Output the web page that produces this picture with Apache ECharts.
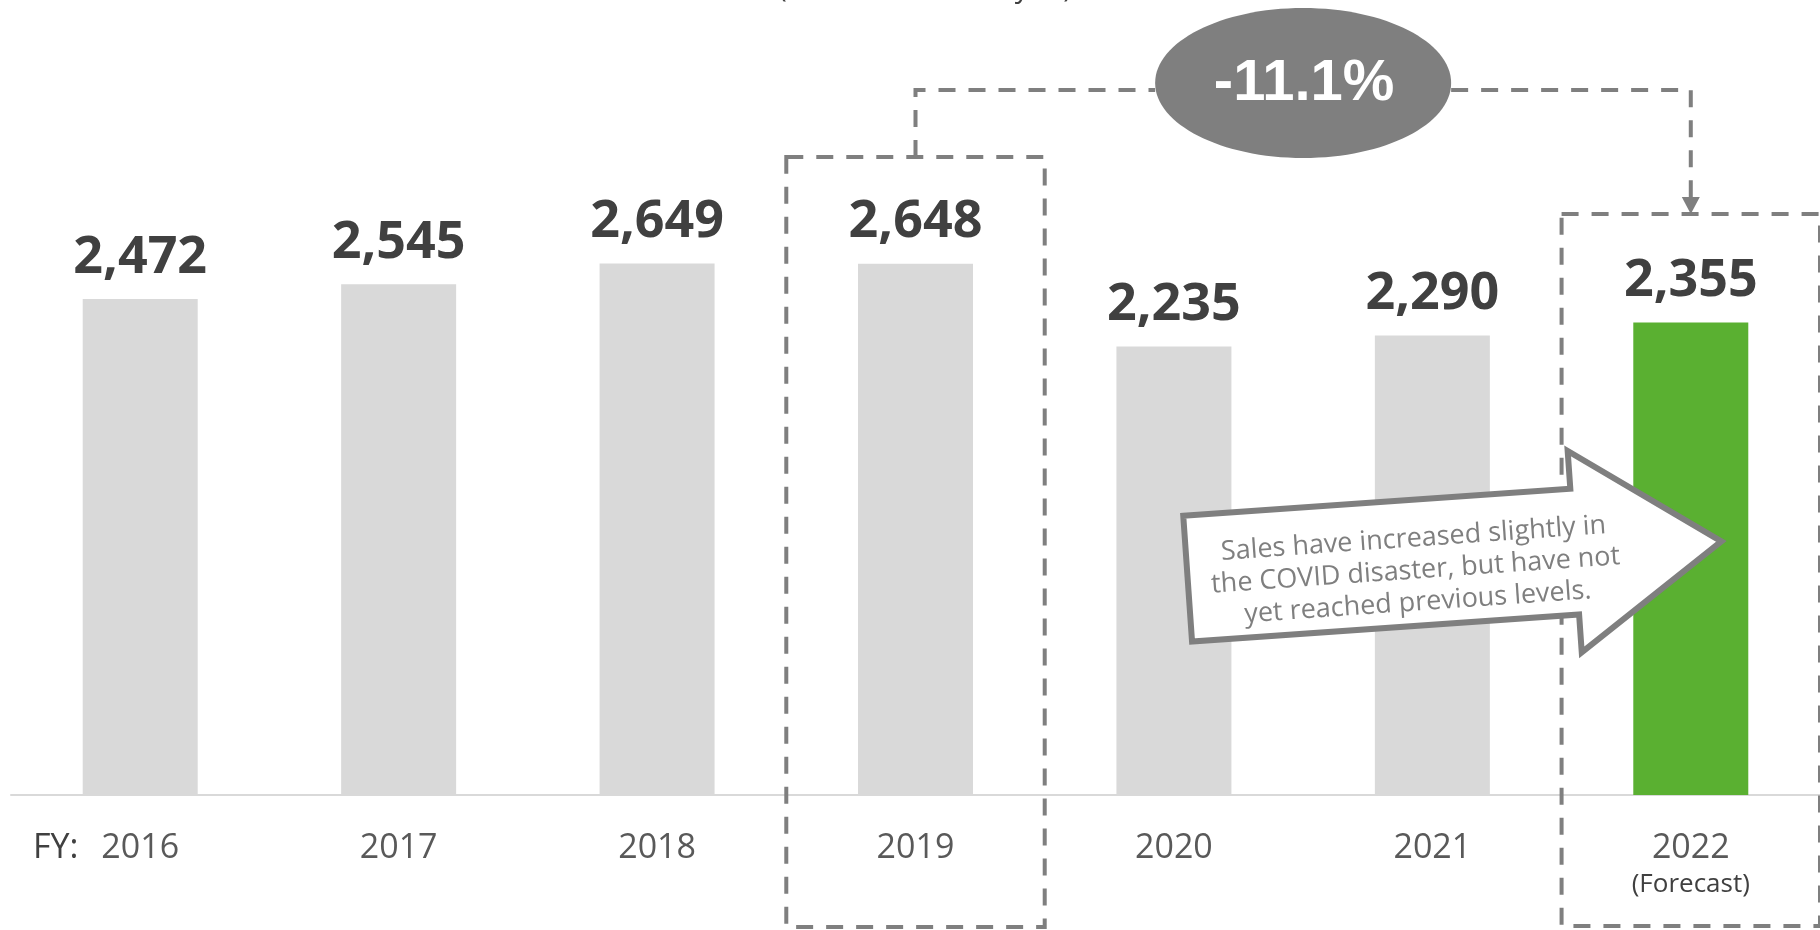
<!DOCTYPE html>
<html>
<head>
<meta charset="utf-8">
<script src="https://cdn.jsdelivr.net/npm/echarts@6/dist/echarts.min.js"></script>
<style>
  html, body { margin: 0; padding: 0; background: #ffffff; }
  #chart { width: 1820px; height: 930px; }
</style>
</head>
<body>
<div id="chart"></div>
<script>
// Net sales by fiscal year (FY2022 is a forecast)
const fiscalYears = ['2016', '2017', '2018', '2019', '2020', '2021', '2022'];
const sales = [2472, 2545, 2649, 2648, 2235, 2290, 2355];
const forecastIndex = 6;
const baseIndex = 3;
const changeLabel = '-11.1%';
const unitNote = '(Unit: 100 million yen)';
const calloutLines = [
  'Sales have increased slightly in',
  'the COVID disaster, but have not',
  'yet reached previous levels.'
];

const GREY_BAR = '#d9d9d9';
const GREEN_BAR = '#5ab031';
const DASH_GREY = '#7f7f7f';
const SANS = '"Open Sans", "Noto Sans", sans-serif';

const chart = echarts.init(document.getElementById('chart'), null, { renderer: 'canvas' });

chart.setOption({
  animation: false,
  backgroundColor: '#ffffff',
  grid: { left: 11, right: -4, top: 193, bottom: 135 },
  xAxis: {
    type: 'category',
    data: fiscalYears,
    axisLine: { lineStyle: { color: GREY_BAR, width: 2 } },
    axisTick: { show: false },
    axisLabel: {
      interval: 0,
      margin: 33,
      fontFamily: SANS,
      fontSize: 34,
      lineHeight: 40,
      color: '#595959',
      formatter: (v, i) => i === forecastIndex ? v + '\n{f|(Forecast)}' : v,
      rich: { f: { fontFamily: SANS, fontSize: 26, lineHeight: 34, color: '#404040' } }
    }
  },
  yAxis: { type: 'value', min: 0, max: 3000, show: false },
  series: [{
    type: 'bar',
    barWidth: 115,
    data: sales.map((v, i) => ({
      value: v,
      itemStyle: { color: i === forecastIndex ? GREEN_BAR : GREY_BAR }
    })),
    label: {
      show: true,
      position: 'top',
      distance: 15,
      fontFamily: SANS,
      fontWeight: 'bold',
      fontSize: 52,
      color: '#404040',
      formatter: p => p.value.toLocaleString('en-US')
    }
  }]
});

// Annotation overlay placed from the category axis
const px = i => chart.convertToPixel({ seriesIndex: 0 }, [i, 0]);
const band = px(1)[0] - px(0)[0];
const baseX = px(baseIndex)[0];
const fcX = px(forecastIndex)[0];
const pillX = (baseX + fcX) / 2;
const pillRx = 148;
const linkY = 90;
const dashed = { fill: null, stroke: DASH_GREY, lineWidth: 4, lineDash: [17, 13] };
const rot = 4 * Math.PI / 180;

chart.setOption({
  graphic: [
    { type: 'text', z: 100, style: { text: unitNote, x: 925, y: 3, align: 'center', verticalAlign: 'bottom',
        fontFamily: SANS, fontSize: 29, fill: '#404040' } },
    { type: 'rect', z: 100, shape: { x: baseX - band / 2, y: 157, width: band, height: 770 }, style: dashed },
    { type: 'rect', z: 100, shape: { x: fcX - band / 2, y: 214, width: band, height: 712 }, style: dashed },
    { type: 'polyline', z: 100, shape: { points: [[baseX, 157], [baseX, linkY], [pillX - pillRx, linkY]] }, style: dashed },
    { type: 'polyline', z: 100, shape: { points: [[pillX + pillRx, linkY], [fcX, linkY], [fcX, 198]] }, style: dashed },
    { type: 'polygon', z: 100, shape: { points: [[fcX - 9, 197], [fcX + 9, 197], [fcX, 214]] }, style: { fill: DASH_GREY } },
    { type: 'ellipse', z: 100, shape: { cx: pillX, cy: 83, rx: pillRx, ry: 75 }, style: { fill: DASH_GREY } },
    { type: 'text', z: 101, style: { text: changeLabel, x: pillX + 1, y: 84, align: 'center', verticalAlign: 'middle',
        fontFamily: '"Liberation Sans", Arial, sans-serif', fontWeight: 'bold', fontSize: 58, fill: '#ffffff' } },
    { type: 'text', z: 100, style: { text: 'FY:', x: 33, y: 828, align: 'left', verticalAlign: 'top',
        fontFamily: SANS, fontSize: 34, lineHeight: 40, fill: '#404040' } },
    {
      type: 'group',
      x: 1455, y: 560,
      rotation: rot,
      children: [
        { type: 'polygon', z: 110,
          shape: { points: [[-268, -63], [120, -63], [120, -101], [267, 0], [120, 101], [120, 63], [-268, 63]] },
          style: { fill: '#ffffff', stroke: DASH_GREY, lineWidth: 6, lineJoin: 'miter' } },
        { type: 'text', z: 111,
          style: { text: calloutLines.join('\n'), x: -40, y: 8, align: 'center', verticalAlign: 'middle',
            fontFamily: SANS, fontSize: 27, lineHeight: 32, fill: DASH_GREY } }
      ]
    }
  ]
});
</script>
</body>
</html>
